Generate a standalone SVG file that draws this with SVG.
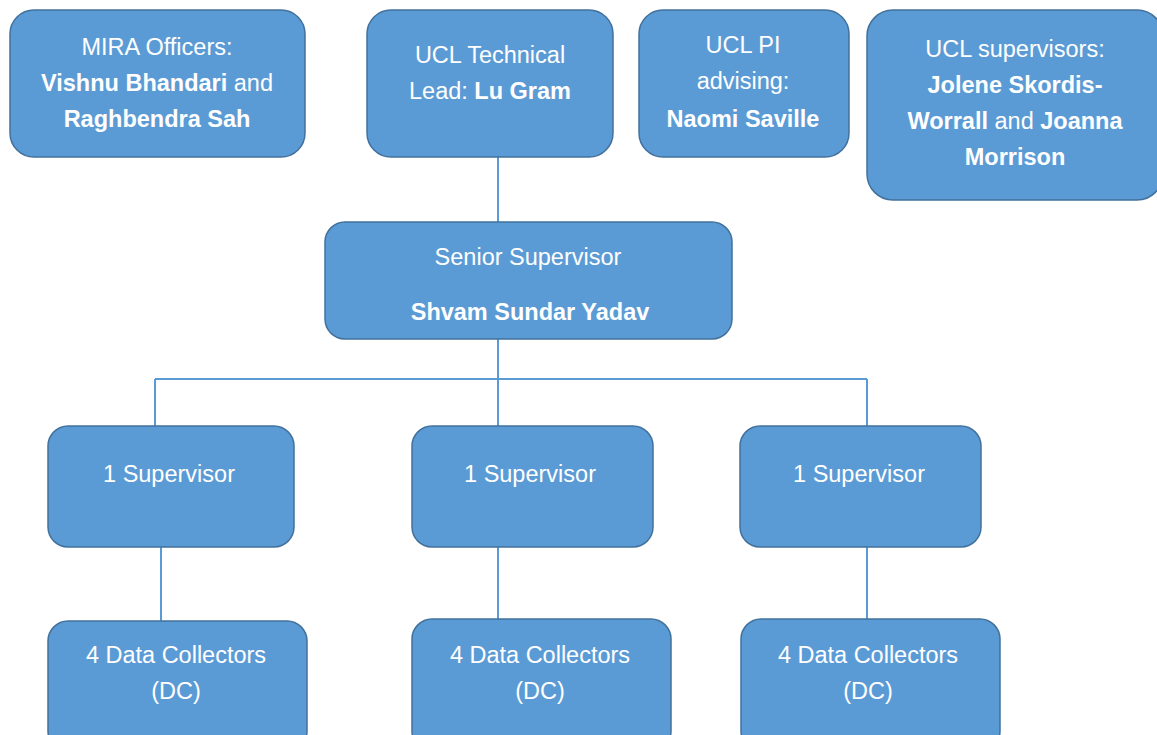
<svg xmlns="http://www.w3.org/2000/svg" width="1157" height="735" viewBox="0 0 1157 735">
<style>
.box{fill:#5b9bd5;stroke:#41719c;stroke-width:1.5}
.t{font-family:"Liberation Sans",Arial,sans-serif;font-size:23.5px;fill:#ffffff;text-anchor:middle}
.b{font-weight:bold}
.c{stroke:#5b9bd5;stroke-width:2;fill:none}
</style>
<rect width="1157" height="735" fill="#ffffff"/>
<g id="connectors">
<line class="c" x1="498" y1="157" x2="498" y2="222"/>
<line class="c" x1="498" y1="339" x2="498" y2="426"/>
<line class="c" x1="155" y1="379" x2="867" y2="379"/>
<line class="c" x1="155" y1="379" x2="155" y2="426"/>
<line class="c" x1="867" y1="379" x2="867" y2="426"/>
<line class="c" x1="161" y1="547" x2="161" y2="621"/>
<line class="c" x1="498" y1="547" x2="498" y2="619"/>
<line class="c" x1="867" y1="547" x2="867" y2="619"/>
</g>
<g id="mira">
<rect class="box" x="10" y="10" width="295" height="147" rx="24"/>
<text class="t" x="157" y="55">MIRA Officers:</text>
<text class="t" x="157" y="91"><tspan class="b">Vishnu Bhandari</tspan> and</text>
<text class="t b" x="157" y="127">Raghbendra Sah</text>
</g>
<g id="techlead">
<rect class="box" x="367" y="10" width="246" height="147" rx="24"/>
<text class="t" x="490" y="63">UCL Technical</text>
<text class="t" x="490" y="99">Lead: <tspan class="b">Lu Gram</tspan></text>
</g>
<g id="pi">
<rect class="box" x="639" y="10" width="210" height="147" rx="24"/>
<text class="t" x="743" y="53">UCL PI</text>
<text class="t" x="743" y="89">advising:</text>
<text class="t b" x="743" y="127">Naomi Saville</text>
</g>
<g id="uclsup">
<rect class="box" x="867" y="10" width="296" height="190" rx="26"/>
<text class="t" x="1015" y="57">UCL supervisors:</text>
<text class="t b" x="1015" y="93">Jolene Skordis-</text>
<text class="t" x="1015" y="129"><tspan class="b">Worrall</tspan> and <tspan class="b">Joanna</tspan></text>
<text class="t b" x="1015" y="165">Morrison</text>
</g>
<g id="senior">
<rect class="box" x="325" y="222" width="407" height="117" rx="20"/>
<text class="t" x="528" y="265">Senior Supervisor</text>
<text class="t b" x="530" y="320">Shvam Sundar Yadav</text>
</g>
<g id="sup1">
<rect class="box" x="48" y="426" width="246" height="121" rx="20"/>
<text class="t" x="169" y="482">1 Supervisor</text>
</g>
<g id="sup2">
<rect class="box" x="412" y="426" width="241" height="121" rx="20"/>
<text class="t" x="530" y="482">1 Supervisor</text>
</g>
<g id="sup3">
<rect class="box" x="740" y="426" width="241" height="121" rx="20"/>
<text class="t" x="859" y="482">1 Supervisor</text>
</g>
<g id="dc1">
<rect class="box" x="48" y="621" width="259" height="130" rx="20"/>
<text class="t" x="176" y="663">4 Data Collectors</text>
<text class="t" x="176" y="699">(DC)</text>
</g>
<g id="dc2">
<rect class="box" x="412" y="619" width="259" height="132" rx="20"/>
<text class="t" x="540" y="663">4 Data Collectors</text>
<text class="t" x="540" y="699">(DC)</text>
</g>
<g id="dc3">
<rect class="box" x="741" y="619" width="259" height="132" rx="20"/>
<text class="t" x="868" y="663">4 Data Collectors</text>
<text class="t" x="868" y="699">(DC)</text>
</g>
</svg>
